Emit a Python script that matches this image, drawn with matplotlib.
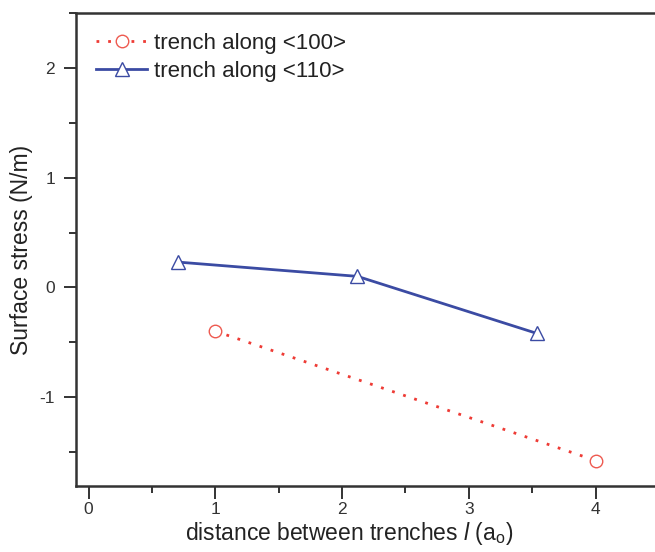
import numpy as np
import matplotlib
matplotlib.use("Agg")
import matplotlib.pyplot as plt
from matplotlib.ticker import MultipleLocator

plt.rcParams['font.family'] = ['Liberation Sans', 'DejaVu Sans']
plt.rcParams['mathtext.fontset'] = 'custom'
plt.rcParams['mathtext.rm'] = 'Liberation Sans'
plt.rcParams['mathtext.it'] = 'Liberation Sans:italic'
plt.rcParams['axes.unicode_minus'] = False

# trench along <100>
x100 = [1.0, 4.0]
y100 = [-0.40, -1.58]

# trench along <110>
x110 = [0.707, 2.121, 3.536]
y110 = [0.23, 0.10, -0.42]

labels = ["trench along <100>", "trench along <110>"]

fig = plt.figure(figsize=(6.55, 5.52), dpi=100)
ax = fig.add_axes([0.116, 0.12, 0.89, 0.856])

ax.plot(x100, y100, linestyle=(0, (1, 3.2)), linewidth=2, color='#ee3b35',
        marker='o', markersize=9, markerfacecolor='white',
        markeredgecolor='#ee5a50', markeredgewidth=1.0, label=labels[0])
ax.plot(x110, y110, linestyle='-', linewidth=2, color='#3b4ba3',
        marker='^', markersize=10, markerfacecolor='white',
        markeredgecolor='#3b4ba3', markeredgewidth=1.0, label=labels[1])

ax.set_xlim(-0.1, 4.5)
ax.set_ylim(-1.81, 2.5)
ax.xaxis.set_major_locator(MultipleLocator(1))
ax.xaxis.set_minor_locator(MultipleLocator(0.5))
ax.yaxis.set_major_locator(MultipleLocator(1))
ax.yaxis.set_minor_locator(MultipleLocator(0.5))
ax.tick_params(which='major', direction='out', length=9, width=1.4,
               labelsize=12.5, labelcolor='#333333', pad=6)
ax.tick_params(axis='x', which='major', pad=3)
ax.tick_params(which='minor', direction='out', length=5, width=1.4)
for s in ax.spines.values():
    s.set_linewidth(1.8)
    s.set_color('#333333')
ax.tick_params(which='both', color='#333333')

ax.set_xlabel(r"distance between trenches $\mathit{l}$ (a$_\mathrm{o}$)",
              fontsize=16.5, color='#222222')
ax.xaxis.set_label_coords(0.468, -0.073)
ax.set_ylabel("Surface stress (N/m)", fontsize=16.5, labelpad=5, color='#222222')

leg = ax.legend(loc='upper left', frameon=False, fontsize=16, handlelength=2.3,
                handletextpad=0.3, borderaxespad=0.3, labelspacing=0.3,
                borderpad=0.6)
for t in leg.get_texts():
    t.set_color('#222222')

fig.savefig("out.png", dpi=100)
